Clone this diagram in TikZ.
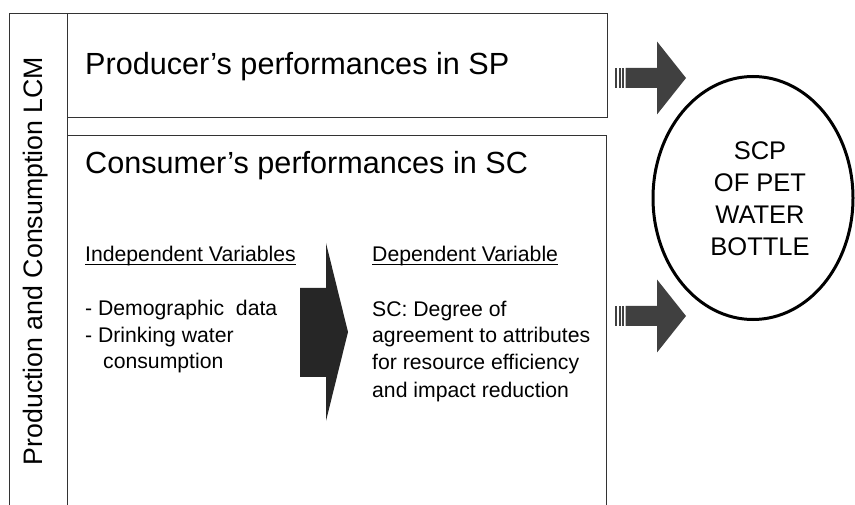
\documentclass[tikz,border=0pt]{standalone}
\usepackage{fontspec}
\setmainfont{Liberation Sans}
\usetikzlibrary{shapes.geometric}

\definecolor{framegray}{HTML}{333333}
\definecolor{flowgray}{HTML}{404040}
\definecolor{bigflow}{HTML}{262626}

\tikzset{
  frame/.style={draw=framegray, line width=1.4pt, inner sep=0pt},
  titletext/.style={anchor=base west, inner sep=0pt, font=\fontsize{30.6}{36}\selectfont},
  vartext/.style={anchor=base west, inner sep=0pt, font=\fontsize{21.2}{26}\selectfont},
  varline/.style={draw=black, line width=1pt},
  blockarrow/.pic={
    \fill[flowgray] (0,-10) rectangle (2,10);
    \fill[flowgray] (3.6,-10) rectangle (5.6,10);
    \fill[flowgray] (7.2,-10) rectangle (9.2,10);
    \fill[flowgray] (10.5,-10) -- (42,-10) -- (42,-36.5) -- (71,0)
      -- (42,36.5) -- (42,10) -- (10.5,10) -- cycle;
  }
}

\begin{document}
\begin{tikzpicture}[x=1pt, y=-1pt]
    \useasboundingbox (0,0) rectangle (855,505);
    \clip (0,0) rectangle (855,505);

    % Draw the frames
    \node[frame, draw, anchor=north west, minimum width=58pt, minimum height=520pt] (lcmbox) at (9,13) {};
    \node[frame, draw, anchor=north west, minimum width=540pt, minimum height=104pt] (prodbox) at (67,13) {};
    \node[frame, draw, anchor=north west, minimum width=539pt, minimum height=400pt] (consbox) at (67,135) {};

    % Side label
    \node[rotate=90, anchor=base, inner sep=0pt, font=\fontsize{26.7}{30}\selectfont] (lcmlabel) at (42,261) {Production and Consumption LCM};

    % Titles of the two boxes
    \node[titletext] (prodtitle) at (85,75) {Producer’s performances in SP};
    \node[titletext] (constitle) at (85,174) {Consumer’s performances in SC};

    % Independent variables
    \node[vartext] (indeptitle) at (85,262) {Independent Variables};
    \draw[varline] ([yshift=-3pt]indeptitle.base west) -- ([yshift=-3pt]indeptitle.base east);
    \node[vartext] (indepone) at (85,316) {- Demographic\ \ data};
    \node[vartext] (indeptwo) at (85,343) {- Drinking water};
    \node[vartext] (indepthree) at (103,369) {consumption};

    % Dependent variable
    \node[vartext] (deptitle) at (372,262) {Dependent Variable};
    \draw[varline] ([yshift=-3pt]deptitle.base west) -- ([yshift=-3pt]deptitle.base east);
    \node[vartext] (depone) at (372,317) {SC: Degree of};
    \node[vartext] (deptwo) at (372,343) {agreement to attributes};
    \node[vartext] (depthree) at (372,370) {for resource efficiency};
    \node[vartext] (depfour) at (372,397) {and impact reduction};

    % Big arrow between the variables
    \fill[bigflow] (300,288) -- (326,288) -- (326,243) -- (348,332) -- (326,421)
      -- (326,377) -- (300,377) -- cycle;

    % Circle on the right
    \node[ellipse, draw=black, line width=3pt, minimum width=200pt, minimum height=243pt, inner sep=0pt] (scp) at (753,198) {};
    \node[align=center, inner sep=0pt, font=\fontsize{25.5}{32}\selectfont] (scptext) at (760,199) {SCP\\OF PET\\WATER\\BOTTLE};

    % Arrows towards the circle
    \coordinate (sparrow) at (615,78);
    \coordinate (scarrow) at (615,316);
    \pic at (sparrow) {blockarrow};
    \pic at (scarrow) {blockarrow};
\end{tikzpicture}
\end{document}
